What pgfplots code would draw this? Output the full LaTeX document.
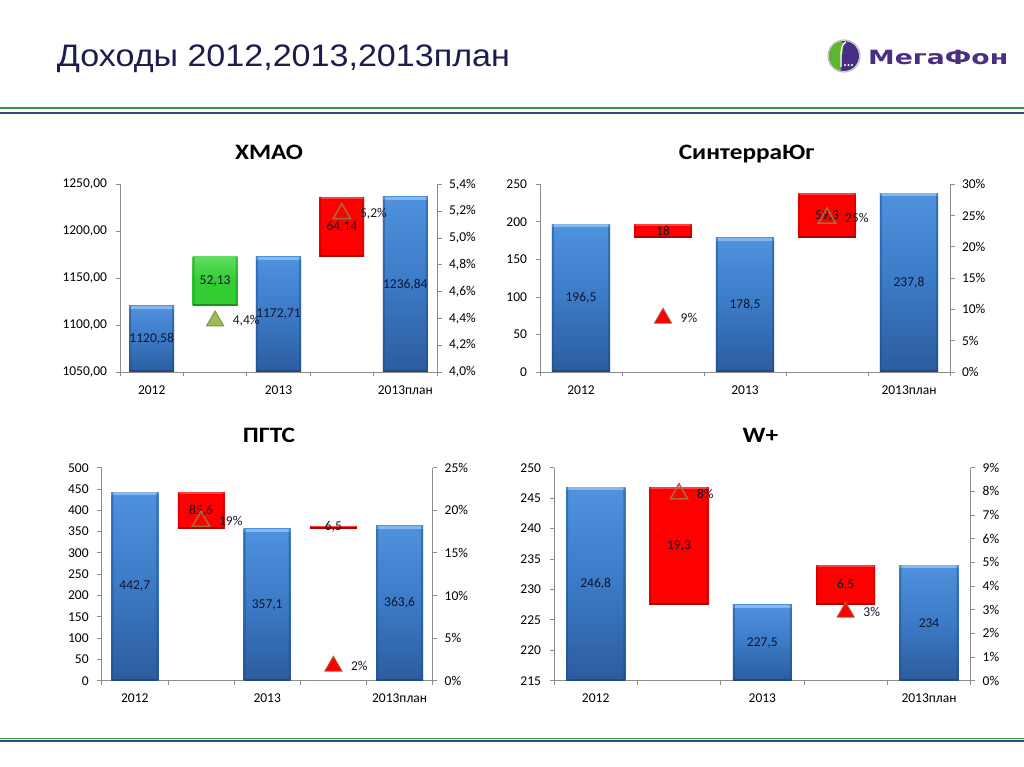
\documentclass[border=0pt]{standalone}
\usepackage{pgfplots}
\pgfplotsset{compat=1.18}
\usepackage{pgfplotstable}
\usepackage{fontspec}
\usepackage{graphicx}
\setmainfont{Carlito}
\newfontfamily\titlefont{Liberation Sans}
\newfontfamily\logofont{DejaVu Sans}

\definecolor{bbTop}{HTML}{4F92DE}
\definecolor{bbMid}{HTML}{3B7AC6}
\definecolor{bbBot}{HTML}{2C5C9E}
\definecolor{bbCap}{HTML}{86B8EE}
\definecolor{bbEdge}{HTML}{1F4A85}
\definecolor{rdMain}{HTML}{FF0000}
\definecolor{rdDark}{HTML}{B00000}
\definecolor{rdLight}{HTML}{FF4040}
\definecolor{gnMain}{HTML}{33CC33}
\definecolor{gnDark}{HTML}{1E8F1E}
\definecolor{gnLight}{HTML}{5EDD5E}
\definecolor{axisgray}{HTML}{8C8C8C}
\definecolor{tribrown}{HTML}{A8683A}
\definecolor{triolive}{HTML}{9BBB59}
\definecolor{trioliveDark}{HTML}{7A9440}
\definecolor{titlenavy}{HTML}{1C1C4E}
\definecolor{labeltext}{HTML}{14142A}
\definecolor{linegreen}{HTML}{3A9A3A}
\definecolor{lineblue}{HTML}{34478A}
\definecolor{logopurple}{HTML}{4B2E83}
\definecolor{logogreen}{HTML}{5DB531}

% x: slot, lo/hi: bar bottom/top, l: data label
\pgfplotstableread{
x lo hi l
0 1050 1120.58 1120,58
1 1120.58 1172.71 52,13
2 1050 1172.71 1172,71
3 1172.71 1236.84 64,14
4 1050 1236.84 1236,84
}\tabA
\pgfplotstableread{
x lo hi l
0 0 196.5 196,5
1 178.5 196.5 18
2 0 178.5 178,5
3 178.5 237.8 59,3
4 0 237.8 237,8
}\tabB
\pgfplotstableread{
x lo hi l
0 0 442.7 442,7
1 357.1 442.7 85,6
2 0 357.1 357,1
3 357.1 363.6 6,5
4 0 363.6 363,6
}\tabC
\pgfplotstableread{
x lo hi l
0 215 246.8 246,8
1 227.5 246.8 19,3
2 215 227.5 227,5
3 227.5 234 6,5
4 215 234 234
}\tabD

\newcommand{\lblfont}{\fontsize{13.5pt}{16pt}\selectfont}
\newcommand{\ctitle}[1]{\scalebox{1.15}[1]{\fontsize{22pt}{26pt}\selectfont\bfseries #1}}

% bevel drawn with basic-layer commands inside each bar (clipped to the bar)
\newcommand{\barbevel}[4]{%
  \pgfsetfillcolor{#1}%
  \pgfpathrectanglecorners{\pgfpointanchor{path picture bounding box}{north west}}{\pgfpointadd{\pgfpointanchor{path picture bounding box}{north east}}{\pgfpoint{0pt}{-#4}}}%
  \pgfusepath{fill}%
  \pgfsetfillcolor{#2}\pgfsetfillopacity{0.45}%
  \pgfpathrectanglecorners{\pgfpointanchor{path picture bounding box}{south west}}{\pgfpointadd{\pgfpointanchor{path picture bounding box}{north west}}{\pgfpoint{2pt}{0pt}}}%
  \pgfpathrectanglecorners{\pgfpointanchor{path picture bounding box}{south east}}{\pgfpointadd{\pgfpointanchor{path picture bounding box}{north east}}{\pgfpoint{-2pt}{0pt}}}%
  \pgfusepath{fill}%
  \pgfsetfillopacity{1}%
  \pgfsetfillcolor{#3}%
  \pgfpathrectanglecorners{\pgfpointanchor{path picture bounding box}{south west}}{\pgfpointadd{\pgfpointanchor{path picture bounding box}{south east}}{\pgfpoint{0pt}{2pt}}}%
  \pgfusepath{fill}%
}

\pgfplotsset{
  wf/.style={
    scale only axis,
    xmin=-0.5, xmax=4.5,
    axis line style={draw=axisgray, line width=0.8pt, -},
    tick style={draw=axisgray, line width=0.8pt},
    tick align=outside,
    major tick length=4.5pt,
    tick label style={font=\lblfont},
    /pgf/number format/assume math mode=true,
  },
  wfbars/.style={
    wf, ybar stacked, bar width=0.71,
    axis x line*=bottom, axis y line*=left,
    xtick={-0.5,0.5,...,4.5}, xticklabels={},
    extra x ticks={0,2,4}, extra x tick labels={2012,2013,2013план},
    extra x tick style={major tick length=0pt},
    xticklabel style={yshift=-10pt},
    yticklabel style={xshift=-5pt},
  },
  wflab/.style={wf, hide axis},
  wfpct/.style={wf, axis x line=none, axis y line*=right, yticklabel style={xshift=4pt}},
  bluebar/.style={draw=none, top color=bbTop, bottom color=bbBot, middle color=bbMid,
     path picture={\barbevel{bbCap}{bbEdge}{bbEdge}{3pt}}},
  greenbar/.style={draw=none, top color=gnLight, bottom color=gnMain, middle color=gnMain,
     path picture={\barbevel{gnLight}{gnDark}{gnDark}{2pt}}},
  redbar/.style={draw=none, fill=rdMain,
     path picture={\barbevel{rdLight}{rdDark}{rdDark}{2pt}}},
  barlabels/.style={draw=none, nodes near coords, point meta=explicit symbolic,
     every node near coord/.append style={anchor=center, font=\lblfont, text=labeltext}},
  pctlabel/.style={nodes near coords={\pgfmathprintnumber[#1]{\pgfplotspointmeta}\%}, point meta=y,
     every node near coord/.append style={anchor=west, xshift=14pt, font=\lblfont, text=labeltext}},
  trifill/.style 2 args={only marks, mark=triangle*, mark size=10pt, mark options={fill=#1, draw=#2, line width=0.8pt, yshift=-2.5pt}},
  trihollow/.style={only marks, mark=triangle, mark size=10pt, mark options={draw=tribrown, line width=1.6pt, yshift=-2.5pt}},
}

% one floating bar: invisible offset up to lo, then the visible bar lo..hi (slot #2 of table #1)
\newcommand{\wfbar}[3]{%
  \addplot[draw=none, fill=none] table[x=x, y expr={ifthenelse(\thisrow{x}==#2, \thisrow{lo}, 0)}] {#1};
  \addplot[#3] table[x=x, y expr={ifthenelse(\thisrow{x}==#2, \thisrow{hi}-\thisrow{lo}, 0)}] {#1};
}
\newcommand{\wflabelsplot}[1]{%
  \addplot[barlabels] table[x=x, y expr={(\thisrow{lo}+\thisrow{hi})/2}, meta=l] {#1};
}

\begin{document}
\begin{tikzpicture}
\path[use as bounding box] (0pt,0pt) rectangle (1024pt,767pt);
\fill[white] (0pt,0pt) rectangle (1024pt,767pt);

% header
\node[anchor=base west, inner sep=0pt, text=titlenavy] at (56.7pt,700.3pt)
  {\resizebox{453pt}{21.7pt}{\titlefont Доходы 2012,2013,2013план}};
% logo
\fill[logopurple] (844pt,711pt) circle (15pt);
\begin{scope}
  \clip (844pt,711pt) circle (15pt);
  \fill[logogreen] (828pt,695pt) rectangle (841pt,727pt);
  \fill[logogreen] (841pt,727pt) .. controls (846pt,722pt) and (841pt,712pt) .. (841pt,705pt) -- (841pt,695pt) -- cycle;
\end{scope}
\draw[white, line width=1.4pt] (846pt,725pt) .. controls (840pt,722pt) and (841pt,712pt) .. (841pt,700pt);
\fill[white] (845pt,702pt) circle (1.1pt) (848.5pt,702pt) circle (1.1pt) (852pt,702pt) circle (1.1pt);
\draw[gray!50, line width=1.2pt] (844pt,711pt) circle (16pt);
\node[anchor=base west, inner sep=0pt, text=logopurple] at (868pt,702.7pt)
  {\resizebox{140pt}{14.3pt}{\logofont\bfseries МегаФон}};
% separator lines
\fill[linegreen] (0pt,657.7pt) rectangle (1024pt,659.7pt);
\fill[lineblue] (0pt,653.3pt) rectangle (1024pt,655.3pt);
\fill[linegreen] (0pt,27.7pt) rectangle (1024pt,29.3pt);
\fill[lineblue] (0pt,25pt) rectangle (1024pt,26.7pt);

% chart titles
\node[anchor=base, inner sep=0pt] at (269pt,607pt) {\ctitle{ХМАО}};
\node[anchor=base, inner sep=0pt] at (746.5pt,607pt) {\ctitle{СинтерраЮг}};
\node[anchor=base, inner sep=0pt] at (269pt,324.3pt) {\ctitle{ПГТС}};
\node[anchor=base, inner sep=0pt] at (760.5pt,324.3pt) {\ctitle{W+}};

% ---------- Chart A: ХМАО ----------
\begin{axis}[wfbars, at={(120pt,395pt)}, anchor=south west, width=317pt, height=187.7pt,
  ymin=1050, ymax=1250, ytick={1050,1100,...,1250},
  yticklabel style={/pgf/number format/.cd, fixed, fixed zerofill, precision=2, use comma, 1000 sep={}}]
\wfbar{\tabA}{0}{bluebar}
\wfbar{\tabA}{1}{greenbar}
\wfbar{\tabA}{2}{bluebar}
\wfbar{\tabA}{3}{redbar}
\wfbar{\tabA}{4}{bluebar}
\end{axis}
\begin{axis}[wflab, at={(120pt,395pt)}, anchor=south west, width=317pt, height=187.7pt,
  ymin=1050, ymax=1250]
\wflabelsplot{\tabA}
\end{axis}
\begin{axis}[wfpct, at={(120pt,395pt)}, anchor=south west, width=317pt, height=187.7pt,
  ymin=4, ymax=5.4, ytick={4,4.2,4.4,4.6,4.8,5,5.2,5.4},
  yticklabel={\pgfmathprintnumber[fixed,fixed zerofill,precision=1,use comma]{\tick}\%}]
\addplot[trifill={triolive}{trioliveDark}, pctlabel={fixed,fixed zerofill,precision=1,use comma}] coordinates {(1,4.4)};
\addplot[trihollow, pctlabel={fixed,fixed zerofill,precision=1,use comma}] coordinates {(3,5.2)};
\end{axis}

% ---------- Chart B: СинтерраЮг ----------
\begin{axis}[wfbars, at={(540pt,395pt)}, anchor=south west, width=410pt, height=187.7pt,
  ymin=0, ymax=250, ytick={0,50,...,250}]
\wfbar{\tabB}{0}{bluebar}
\wfbar{\tabB}{1}{redbar}
\wfbar{\tabB}{2}{bluebar}
\wfbar{\tabB}{3}{redbar}
\wfbar{\tabB}{4}{bluebar}
\end{axis}
\begin{axis}[wflab, at={(540pt,395pt)}, anchor=south west, width=410pt, height=187.7pt,
  ymin=0, ymax=250]
\wflabelsplot{\tabB}
\end{axis}
\begin{axis}[wfpct, at={(540pt,395pt)}, anchor=south west, width=410pt, height=187.7pt,
  ymin=0, ymax=30, ytick={0,5,...,30},
  yticklabel={\pgfmathprintnumber{\tick}\%}]
\addplot[trifill={rdMain}{tribrown}, pctlabel={fixed,precision=0}] coordinates {(1,9)};
\addplot[trihollow, pctlabel={fixed,precision=0}] coordinates {(3,25)};
\end{axis}

% ---------- Chart C: ПГТС ----------
\begin{axis}[wfbars, at={(101.7pt,86.3pt)}, anchor=south west, width=331pt, height=213pt,
  ymin=0, ymax=500, ytick={0,50,...,500}]
\wfbar{\tabC}{0}{bluebar}
\wfbar{\tabC}{1}{redbar}
\wfbar{\tabC}{2}{bluebar}
\wfbar{\tabC}{3}{redbar}
\wfbar{\tabC}{4}{bluebar}
\end{axis}
\begin{axis}[wflab, at={(101.7pt,86.3pt)}, anchor=south west, width=331pt, height=213pt,
  ymin=0, ymax=500]
\wflabelsplot{\tabC}
\end{axis}
\begin{axis}[wfpct, at={(101.7pt,86.3pt)}, anchor=south west, width=331pt, height=213pt,
  ymin=0, ymax=25, ytick={0,5,...,25},
  yticklabel={\pgfmathprintnumber{\tick}\%}]
\addplot[trihollow, pctlabel={fixed,precision=0}] coordinates {(1,19)};
\addplot[trifill={rdMain}{tribrown}, pctlabel={fixed,precision=0}] coordinates {(3,2)};
\end{axis}

% ---------- Chart D: W+ ----------
\begin{axis}[wfbars, at={(554pt,86.3pt)}, anchor=south west, width=416.7pt, height=213pt,
  ymin=215, ymax=250, ytick={215,220,...,250}]
\wfbar{\tabD}{0}{bluebar}
\wfbar{\tabD}{1}{redbar}
\wfbar{\tabD}{2}{bluebar}
\wfbar{\tabD}{3}{redbar}
\wfbar{\tabD}{4}{bluebar}
\end{axis}
\begin{axis}[wflab, at={(554pt,86.3pt)}, anchor=south west, width=416.7pt, height=213pt,
  ymin=215, ymax=250]
\wflabelsplot{\tabD}
\end{axis}
\begin{axis}[wfpct, at={(554pt,86.3pt)}, anchor=south west, width=416.7pt, height=213pt,
  ymin=0, ymax=9, ytick={0,1,...,9},
  yticklabel={\pgfmathprintnumber{\tick}\%}]
\addplot[trihollow, pctlabel={fixed,precision=0}] coordinates {(1,8)};
\addplot[trifill={rdMain}{tribrown}, pctlabel={fixed,precision=0}] coordinates {(3,3)};
\end{axis}
\end{tikzpicture}
\end{document}
